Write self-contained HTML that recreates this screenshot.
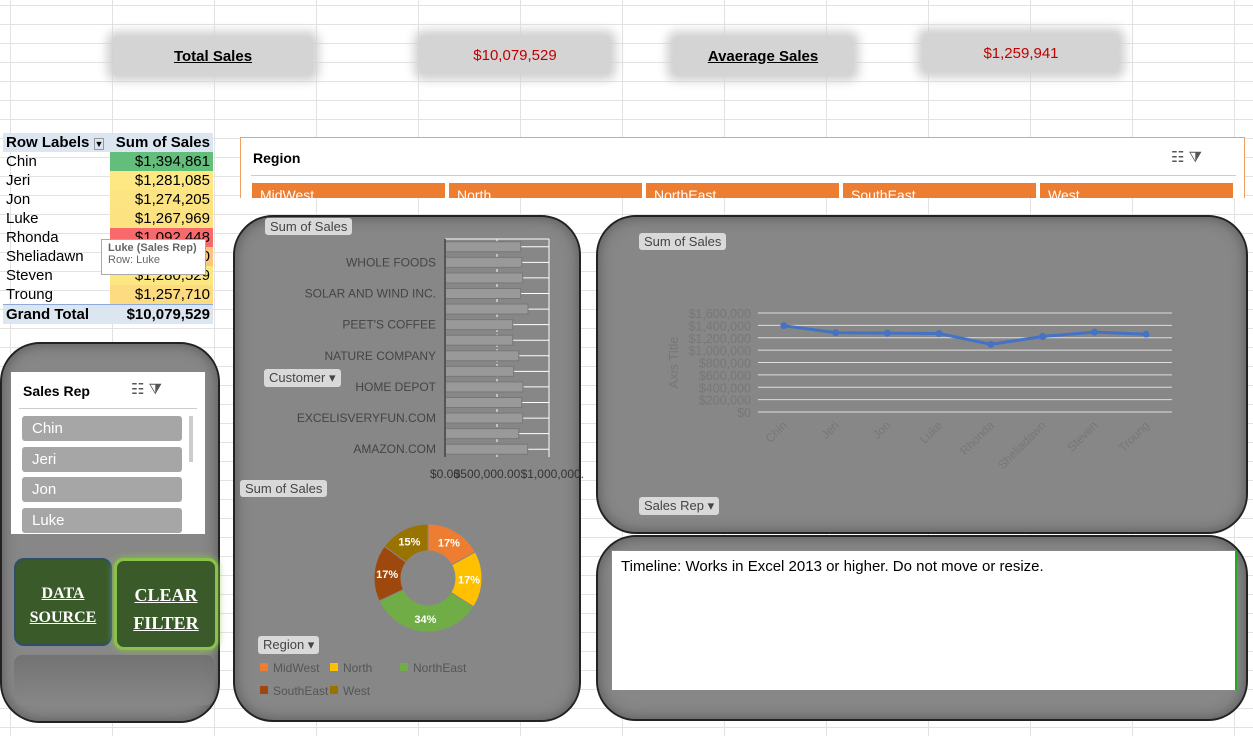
<!DOCTYPE html>
<html><head><meta charset="utf-8"><style>
body{margin:0;width:1253px;height:736px;overflow:hidden;font-family:"Liberation Sans",sans-serif;position:relative;
background-color:#fff;background-image:linear-gradient(#e2e2e2 1px,transparent 1px),linear-gradient(90deg,#e2e2e2 1px,transparent 1px);background-size:102px 19px;background-position:10px 5px}
.a{position:absolute}
.kpi{position:absolute;height:38px;background:#d4d4d4;border-radius:4px;box-shadow:0 0 10px 6px #d0d0d0;display:flex;align-items:center;justify-content:center;font-size:15px}
.panel{position:absolute;background:#878787;border:2px solid #222;border-radius:40px;box-shadow:inset 0 0 14px #555}
.btn{position:absolute;background:#d9d9d9;border-radius:3px;font-size:13px;color:#444;padding:1px 5px}
.slic{position:absolute;background:#a6a6a6;color:#fff;font-size:15px;border-radius:3px;padding:4px 10px;width:140px}
table{border-collapse:collapse;font-size:15px}
td{padding:0 3px;height:19px}
</style></head><body>
<div class="kpi" style="left:113px;top:37px;width:200px"><b><u>Total Sales</u></b></div>
<div class="kpi" style="left:420px;top:36px;width:190px;color:#c00000">$10,079,529</div>
<div class="kpi" style="left:673px;top:37px;width:180px"><b><u>Avaerage Sales</u></b></div>
<div class="kpi" style="left:923px;top:34px;width:196px;color:#c00000">$1,259,941</div>

<table class="a" style="left:3px;top:133px;width:210px">
<tr style="background:#dce6f1;font-weight:bold"><td>Row Labels <span style="border:1px solid #999;font-size:9px">▼</span></td><td style="text-align:right">Sum of Sales</td></tr>
<tr><td>Chin</td><td style="background:#63be7b;text-align:right">$1,394,861</td></tr>
<tr><td>Jeri</td><td style="background:#fde883;text-align:right">$1,281,085</td></tr>
<tr><td>Jon</td><td style="background:#fde482;text-align:right">$1,274,205</td></tr>
<tr><td>Luke</td><td style="background:#fde282;text-align:right">$1,267,969</td></tr>
<tr><td>Rhonda</td><td style="background:#f8696b;text-align:right">$1,092,448</td></tr>
<tr><td>Sheliadawn</td><td style="background:#fcc57c;text-align:right">$1,220,000</td></tr>
<tr><td>Steven</td><td style="background:#fde783;text-align:right">$1,280,529</td></tr>
<tr><td>Troung</td><td style="background:#fddc81;text-align:right">$1,257,710</td></tr>
<tr style="background:#dce6f1;font-weight:bold;border-top:1px solid #8ea9db"><td>Grand Total</td><td style="text-align:right">$10,079,529</td></tr>
</table>
<div class="a" style="left:101px;top:239px;width:105px;height:36px;background:#fff;border:1px solid #aaa;font-size:11px;color:#666;padding:2px 6px;box-sizing:border-box"><b>Luke (Sales Rep)</b><br>Row: Luke</div>

<div class="a" style="left:240px;top:137px;width:1003px;height:60px;border:1px solid #f0a060;border-bottom:none;background:#fff;overflow:hidden">
<div class="a" style="left:12px;top:12px;font-size:14px;font-weight:bold">Region</div>
<div class="a" style="left:930px;top:10px;font-size:15px;color:#555">☷ ⧩</div>
<div class="a" style="left:10px;top:37px;width:985px;border-top:1px solid #ccc"></div>
<div class="a" style="left:11px;top:45px;width:193px;height:20px;background:#ed7d31;color:#fff;font-size:14px;padding:4px 0 0 8px;box-sizing:border-box">MidWest</div>
<div class="a" style="left:208px;top:45px;width:193px;height:20px;background:#ed7d31;color:#fff;font-size:14px;padding:4px 0 0 8px;box-sizing:border-box">North</div>
<div class="a" style="left:405px;top:45px;width:193px;height:20px;background:#ed7d31;color:#fff;font-size:14px;padding:4px 0 0 8px;box-sizing:border-box">NorthEast</div>
<div class="a" style="left:602px;top:45px;width:193px;height:20px;background:#ed7d31;color:#fff;font-size:14px;padding:4px 0 0 8px;box-sizing:border-box">SouthEast</div>
<div class="a" style="left:799px;top:45px;width:193px;height:20px;background:#ed7d31;color:#fff;font-size:14px;padding:4px 0 0 8px;box-sizing:border-box">West</div>
</div>

<div class="panel" style="left:0;top:342px;width:216px;height:377px"></div>
<div class="a" style="left:11px;top:372px;width:194px;height:162px;background:#fff;overflow:hidden">
<div class="a" style="left:12px;top:11px;font-size:14px;font-weight:bold">Sales Rep</div>
<div class="a" style="left:120px;top:8px;font-size:15px;color:#555">☷ ⧩</div>
<div class="a" style="left:8px;top:36px;width:178px;border-top:1px solid #ccc"></div>
<div class="slic" style="left:11px;top:44px">Chin</div>
<div class="slic" style="left:11px;top:75px">Jeri</div>
<div class="slic" style="left:11px;top:105px">Jon</div>
<div class="slic" style="left:11px;top:136px">Luke</div>
<div class="a" style="left:178px;top:44px;width:4px;height:46px;background:#ccc"></div>
</div>
<div class="a" style="left:14px;top:558px;width:98px;height:88px;background:#3a5a2a;border:2px solid #2d4f6c;border-radius:10px;color:#fff;font-family:'Liberation Serif',serif;font-weight:bold;font-size:16px;text-align:center;box-sizing:border-box;padding-top:22px;line-height:24px"><u>DATA<br>SOURCE</u></div>
<div class="a" style="left:114px;top:558px;width:104px;height:92px;background:#3a5a2a;border:3px solid #8bc34a;border-radius:10px;color:#fff;font-family:'Liberation Serif',serif;font-weight:bold;font-size:18px;text-align:center;box-sizing:border-box;padding-top:20px;line-height:28px;box-shadow:0 0 8px #8bc34a"><u>CLEAR<br>FILTER</u></div>
<div class="a" style="left:14px;top:655px;width:200px;height:50px;background:linear-gradient(#6a6a6a,#878787);opacity:.7;border-radius:8px"></div>

<div class="panel" style="left:233px;top:215px;width:344px;height:503px"></div>
<div class="btn" style="left:265px;top:218px">Sum of Sales</div>
<div class="btn" style="left:264px;top:369px">Customer ▾</div>
<div class="btn" style="left:240px;top:480px">Sum of Sales</div>
<div class="btn" style="left:258px;top:636px">Region ▾</div>
<svg class="a" style="left:233px;top:215px" width="350" height="503" id="cs"></svg>

<div class="panel" style="left:596px;top:215px;width:648px;height:315px"></div>
<div class="btn" style="left:639px;top:233px">Sum of Sales</div>
<div class="btn" style="left:639px;top:497px">Sales Rep ▾</div>
<svg class="a" style="left:596px;top:215px" width="648" height="315" id="ls"></svg>

<div class="panel" style="left:596px;top:535px;width:648px;height:182px"></div>
<div class="a" style="left:611px;top:550px;width:626px;height:141px;background:#fff;border:1px solid #888;border-right:2px solid #2a2;font-size:15px;padding:7px 9px;box-sizing:border-box">Timeline: Works in Excel 2013 or higher. Do not move or resize.</div>

<script>
const NS="http://www.w3.org/2000/svg";
function mk(p,t,a,txt){const e=document.createElementNS(NS,t);for(const k in a)e.setAttribute(k,a[k]);if(txt!==undefined)e.textContent=txt;p.appendChild(e);return e;}
const custLabels=["WHOLE FOODS","SOLAR AND WIND INC.","PEET'S COFFEE","NATURE COMPANY","HOME DEPOT","EXCELISVERYFUN.COM","AMAZON.COM"];
const custValues=[728000,738000,747000,728000,798000,651000,651000,709000,660000,750000,738000,747000,709000,795000];
const barTicks=["$0.00","$500,000.00","$1,000,000.00"];
const cs=document.getElementById('cs');
const bx0=212,bxw=104,by0=24,byh=218;
const bxs=v=>bx0+v/1e6*bxw;
mk(cs,'line',{x1:bxs(5e5),x2:bxs(5e5),y1:by0,y2:by0+byh,stroke:'#fff','stroke-dasharray':'3,2'});
mk(cs,'line',{x1:bxs(1e6),x2:bxs(1e6),y1:by0,y2:by0+byh,stroke:'#fff'});
mk(cs,'line',{x1:bx0,x2:bxs(1e6),y1:by0,y2:by0,stroke:'#fff'});
const step=byh/custValues.length;
custValues.forEach((v,i)=>{const y=by0+step*i+step/2;
 mk(cs,'line',{x1:bx0,x2:bxs(1e6),y1:y,y2:y,stroke:'#fff'});
 const r=mk(cs,'rect',{x:bx0,y:y-5,width:bxs(v)-bx0,height:10,fill:'#999',stroke:'#777'});
 
 });
mk(cs,'line',{x1:bx0,x2:bx0,y1:by0,y2:by0+byh,stroke:'#555','stroke-width':2});
custLabels.forEach((l,i)=>{const t=mk(cs,'text',{x:203,y:by0+step*(2*i+1)+step/2+4,'text-anchor':'end','font-size':12,fill:'#444'},l);
 });
barTicks.forEach((l,i)=>{mk(cs,'text',{x:bxs(i*5e5)+(i==0?0:i==1?-10:10),y:263,'text-anchor':'middle','font-size':12,fill:'#333'},l);});
const regions=["MidWest","North","NorthEast","SouthEast","West"];
const regionValues=[17,17,34,17,15];
const regionColors=["#ed7d31","#ffc000","#70ad47","#9e480e","#997300"];
const cx=195,cy=363,ro=54,ri=27;let ang=0;const tot=regionValues.reduce((a,b)=>a+b,0);
regionValues.forEach((v,i)=>{const a0=ang,a1=ang+v/tot*2*Math.PI;ang=a1;
 const p=(a,r)=>[cx+r*Math.sin(a),cy-r*Math.cos(a)];const L=a1-a0>Math.PI?1:0;
 const [x0,y0]=p(a0,ro),[x1,y1]=p(a1,ro),[x2,y2]=p(a1,ri),[x3,y3]=p(a0,ri);
 const s=mk(cs,'path',{d:`M${x0},${y0}A${ro},${ro} 0 ${L} 1 ${x1},${y1}L${x2},${y2}A${ri},${ri} 0 ${L} 0 ${x3},${y3}Z`,fill:regionColors[i],stroke:'#888'});
 
 const [lx,ly]=p((a0+a1)/2,41);
 mk(cs,'text',{x:lx,y:ly+4,'text-anchor':'middle','font-size':11,'font-weight':'bold',fill:'#fff'},v+'%');});
regions.forEach((r,i)=>{const x=[27,97,167,27,97][i],y=[457,457,457,480,480][i];
 mk(cs,'rect',{x:x,y:y-9,width:8,height:8,fill:regionColors[i]});
 const t=mk(cs,'text',{x:x+13,y:y,'font-size':12,fill:'#555'},r);
 });
const reps=["Chin","Jeri","Jon","Luke","Rhonda","Sheliadawn","Steven","Troung"];
const repSales=[1394861,1281085,1274205,1267969,1092448,1220000,1290529,1257710];
const yTicks=[0,200000,400000,600000,800000,1000000,1200000,1400000,1600000];
const ls=document.getElementById('ls');
const lx0=162,lxw=414,ly0=197,lyh=99;
const ys=v=>ly0-v/1.6e6*lyh, xs=i=>lx0+lxw*(i+0.5)/reps.length;
yTicks.forEach(v=>{mk(ls,'line',{x1:lx0,x2:lx0+lxw,y1:ys(v),y2:ys(v),stroke:'#ddd'});
 mk(ls,'text',{x:lx0-7,y:ys(v)+5,'text-anchor':'end','font-size':12.5,fill:'#777'},'$'+v.toLocaleString('en-US'));});
mk(ls,'text',{x:82,y:ly0-lyh/2,'text-anchor':'middle','font-size':13,fill:'#777',transform:`rotate(-90 82 ${ly0-lyh/2})`},'Axis Title');
mk(ls,'polyline',{points:repSales.map((v,i)=>xs(i)+','+ys(v)).join(' '),fill:'none',stroke:'#4472c4','stroke-width':3});
repSales.forEach((v,i)=>{const c=mk(ls,'circle',{cx:xs(i),cy:ys(v),r:3.5,fill:'#4472c4'});
 
 mk(ls,'text',{x:xs(i)+4,y:ly0+14,'text-anchor':'end','font-size':12,fill:'#777',transform:`rotate(-45 ${xs(i)+4} ${ly0+14})`},reps[i]);});
</script>
</body></html>
